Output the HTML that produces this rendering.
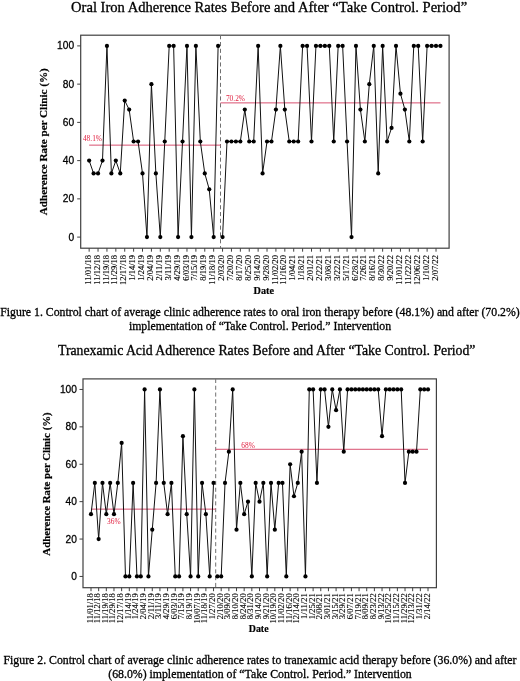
<!DOCTYPE html>
<html><head><meta charset="utf-8"><style>
html,body{margin:0;padding:0;background:#fff;}
body{width:520px;height:681px;overflow:hidden;position:relative;}
svg{position:absolute;left:0;top:0;will-change:transform;}
.t{font-family:"Liberation Serif",serif;fill:#000;stroke:#000;stroke-width:0.3px;}
.yt{font-family:"Liberation Sans",sans-serif;fill:#000;stroke:#000;stroke-width:0.3px;}
.xt{font-family:"Liberation Serif",serif;font-size:8.5px;fill:#000;stroke:#000;stroke-width:0.12px;}
.yl,.dl{font-family:"Liberation Serif",serif;font-weight:bold;fill:#000;stroke:#000;stroke-width:0.2px;}
.ml{font-family:"Liberation Serif",serif;font-size:7.4px;fill:#e02040;}
.cap{font-family:"Liberation Serif",serif;font-size:11.8px;fill:#000;stroke:#000;stroke-width:0.3px;}
</style></head><body>
<svg width="520" height="681" viewBox="0 0 520 681">
<text x="71.0" y="11.5" class="t" style="font-size:14.6px">Oral Iron Adherence Rates Before and After “Take Control. Period”</text>
<rect x="80.7" y="35.2" width="368.40" height="213.00" fill="none" stroke="#404040" stroke-width="1.2"/>
<line x1="77.20" y1="237.10" x2="80.7" y2="237.10" stroke="#404040" stroke-width="1"/>
<text transform="translate(74.10,240.60) scale(0.91,1)" text-anchor="end" class="yt" style="font-size:11.2px">0</text>
<line x1="77.20" y1="198.86" x2="80.7" y2="198.86" stroke="#404040" stroke-width="1"/>
<text transform="translate(74.10,202.36) scale(0.91,1)" text-anchor="end" class="yt" style="font-size:11.2px">20</text>
<line x1="77.20" y1="160.62" x2="80.7" y2="160.62" stroke="#404040" stroke-width="1"/>
<text transform="translate(74.10,164.12) scale(0.91,1)" text-anchor="end" class="yt" style="font-size:11.2px">40</text>
<line x1="77.20" y1="122.38" x2="80.7" y2="122.38" stroke="#404040" stroke-width="1"/>
<text transform="translate(74.10,125.88) scale(0.91,1)" text-anchor="end" class="yt" style="font-size:11.2px">60</text>
<line x1="77.20" y1="84.14" x2="80.7" y2="84.14" stroke="#404040" stroke-width="1"/>
<text transform="translate(74.10,87.64) scale(0.91,1)" text-anchor="end" class="yt" style="font-size:11.2px">80</text>
<line x1="77.20" y1="45.90" x2="80.7" y2="45.90" stroke="#404040" stroke-width="1"/>
<text transform="translate(74.10,49.40) scale(0.91,1)" text-anchor="end" class="yt" style="font-size:11.2px">100</text>
<line x1="89.15" y1="248.2" x2="89.15" y2="251.70" stroke="#404040" stroke-width="1"/>
<text transform="translate(90.75,254.90) rotate(-90) scale(1,0.94)" text-anchor="end" class="xt">11/01/18</text>
<line x1="98.04" y1="248.2" x2="98.04" y2="251.70" stroke="#404040" stroke-width="1"/>
<text transform="translate(99.64,254.90) rotate(-90) scale(1,0.94)" text-anchor="end" class="xt">11/12/18</text>
<line x1="106.94" y1="248.2" x2="106.94" y2="251.70" stroke="#404040" stroke-width="1"/>
<text transform="translate(108.54,254.90) rotate(-90) scale(1,0.94)" text-anchor="end" class="xt">11/19/18</text>
<line x1="115.83" y1="248.2" x2="115.83" y2="251.70" stroke="#404040" stroke-width="1"/>
<text transform="translate(117.43,254.90) rotate(-90) scale(1,0.94)" text-anchor="end" class="xt">11/29/18</text>
<line x1="124.73" y1="248.2" x2="124.73" y2="251.70" stroke="#404040" stroke-width="1"/>
<text transform="translate(126.33,254.90) rotate(-90) scale(1,0.94)" text-anchor="end" class="xt">12/17/18</text>
<line x1="133.62" y1="248.2" x2="133.62" y2="251.70" stroke="#404040" stroke-width="1"/>
<text transform="translate(135.22,254.90) rotate(-90) scale(1,0.94)" text-anchor="end" class="xt">1/14/19</text>
<line x1="142.51" y1="248.2" x2="142.51" y2="251.70" stroke="#404040" stroke-width="1"/>
<text transform="translate(144.11,254.90) rotate(-90) scale(1,0.94)" text-anchor="end" class="xt">1/24/19</text>
<line x1="151.41" y1="248.2" x2="151.41" y2="251.70" stroke="#404040" stroke-width="1"/>
<text transform="translate(153.01,254.90) rotate(-90) scale(1,0.94)" text-anchor="end" class="xt">2/04/19</text>
<line x1="160.30" y1="248.2" x2="160.30" y2="251.70" stroke="#404040" stroke-width="1"/>
<text transform="translate(161.90,254.90) rotate(-90) scale(1,0.94)" text-anchor="end" class="xt">2/11/19</text>
<line x1="169.20" y1="248.2" x2="169.20" y2="251.70" stroke="#404040" stroke-width="1"/>
<text transform="translate(170.80,254.90) rotate(-90) scale(1,0.94)" text-anchor="end" class="xt">3/11/19</text>
<line x1="178.09" y1="248.2" x2="178.09" y2="251.70" stroke="#404040" stroke-width="1"/>
<text transform="translate(179.69,254.90) rotate(-90) scale(1,0.94)" text-anchor="end" class="xt">4/29/19</text>
<line x1="186.98" y1="248.2" x2="186.98" y2="251.70" stroke="#404040" stroke-width="1"/>
<text transform="translate(188.58,254.90) rotate(-90) scale(1,0.94)" text-anchor="end" class="xt">6/03/19</text>
<line x1="195.88" y1="248.2" x2="195.88" y2="251.70" stroke="#404040" stroke-width="1"/>
<text transform="translate(197.48,254.90) rotate(-90) scale(1,0.94)" text-anchor="end" class="xt">7/15/19</text>
<line x1="204.77" y1="248.2" x2="204.77" y2="251.70" stroke="#404040" stroke-width="1"/>
<text transform="translate(206.37,254.90) rotate(-90) scale(1,0.94)" text-anchor="end" class="xt">8/19/19</text>
<line x1="213.67" y1="248.2" x2="213.67" y2="251.70" stroke="#404040" stroke-width="1"/>
<text transform="translate(215.27,254.90) rotate(-90) scale(1,0.94)" text-anchor="end" class="xt">11/18/19</text>
<line x1="222.56" y1="248.2" x2="222.56" y2="251.70" stroke="#404040" stroke-width="1"/>
<text transform="translate(224.16,254.90) rotate(-90) scale(1,0.94)" text-anchor="end" class="xt">2/03/20</text>
<line x1="231.45" y1="248.2" x2="231.45" y2="251.70" stroke="#404040" stroke-width="1"/>
<text transform="translate(233.05,254.90) rotate(-90) scale(1,0.94)" text-anchor="end" class="xt">7/20/20</text>
<line x1="240.35" y1="248.2" x2="240.35" y2="251.70" stroke="#404040" stroke-width="1"/>
<text transform="translate(241.95,254.90) rotate(-90) scale(1,0.94)" text-anchor="end" class="xt">8/17/20</text>
<line x1="249.24" y1="248.2" x2="249.24" y2="251.70" stroke="#404040" stroke-width="1"/>
<text transform="translate(250.84,254.90) rotate(-90) scale(1,0.94)" text-anchor="end" class="xt">8/25/20</text>
<line x1="258.14" y1="248.2" x2="258.14" y2="251.70" stroke="#404040" stroke-width="1"/>
<text transform="translate(259.74,254.90) rotate(-90) scale(1,0.94)" text-anchor="end" class="xt">9/14/20</text>
<line x1="267.03" y1="248.2" x2="267.03" y2="251.70" stroke="#404040" stroke-width="1"/>
<text transform="translate(268.63,254.90) rotate(-90) scale(1,0.94)" text-anchor="end" class="xt">9/28/20</text>
<line x1="275.92" y1="248.2" x2="275.92" y2="251.70" stroke="#404040" stroke-width="1"/>
<text transform="translate(277.52,254.90) rotate(-90) scale(1,0.94)" text-anchor="end" class="xt">11/02/20</text>
<line x1="284.82" y1="248.2" x2="284.82" y2="251.70" stroke="#404040" stroke-width="1"/>
<text transform="translate(286.42,254.90) rotate(-90) scale(1,0.94)" text-anchor="end" class="xt">11/16/20</text>
<line x1="293.71" y1="248.2" x2="293.71" y2="251.70" stroke="#404040" stroke-width="1"/>
<text transform="translate(295.31,254.90) rotate(-90) scale(1,0.94)" text-anchor="end" class="xt">1/04/21</text>
<line x1="302.61" y1="248.2" x2="302.61" y2="251.70" stroke="#404040" stroke-width="1"/>
<text transform="translate(304.21,254.90) rotate(-90) scale(1,0.94)" text-anchor="end" class="xt">1/18/21</text>
<line x1="311.50" y1="248.2" x2="311.50" y2="251.70" stroke="#404040" stroke-width="1"/>
<text transform="translate(313.10,254.90) rotate(-90) scale(1,0.94)" text-anchor="end" class="xt">2/01/21</text>
<line x1="320.39" y1="248.2" x2="320.39" y2="251.70" stroke="#404040" stroke-width="1"/>
<text transform="translate(321.99,254.90) rotate(-90) scale(1,0.94)" text-anchor="end" class="xt">2/22/21</text>
<line x1="329.29" y1="248.2" x2="329.29" y2="251.70" stroke="#404040" stroke-width="1"/>
<text transform="translate(330.89,254.90) rotate(-90) scale(1,0.94)" text-anchor="end" class="xt">3/08/21</text>
<line x1="338.18" y1="248.2" x2="338.18" y2="251.70" stroke="#404040" stroke-width="1"/>
<text transform="translate(339.78,254.90) rotate(-90) scale(1,0.94)" text-anchor="end" class="xt">3/22/21</text>
<line x1="347.08" y1="248.2" x2="347.08" y2="251.70" stroke="#404040" stroke-width="1"/>
<text transform="translate(348.68,254.90) rotate(-90) scale(1,0.94)" text-anchor="end" class="xt">5/17/21</text>
<line x1="355.97" y1="248.2" x2="355.97" y2="251.70" stroke="#404040" stroke-width="1"/>
<text transform="translate(357.57,254.90) rotate(-90) scale(1,0.94)" text-anchor="end" class="xt">6/28/21</text>
<line x1="364.86" y1="248.2" x2="364.86" y2="251.70" stroke="#404040" stroke-width="1"/>
<text transform="translate(366.46,254.90) rotate(-90) scale(1,0.94)" text-anchor="end" class="xt">7/26/21</text>
<line x1="373.76" y1="248.2" x2="373.76" y2="251.70" stroke="#404040" stroke-width="1"/>
<text transform="translate(375.36,254.90) rotate(-90) scale(1,0.94)" text-anchor="end" class="xt">8/16/21</text>
<line x1="382.65" y1="248.2" x2="382.65" y2="251.70" stroke="#404040" stroke-width="1"/>
<text transform="translate(384.25,254.90) rotate(-90) scale(1,0.94)" text-anchor="end" class="xt">8/30/22</text>
<line x1="391.55" y1="248.2" x2="391.55" y2="251.70" stroke="#404040" stroke-width="1"/>
<text transform="translate(393.15,254.90) rotate(-90) scale(1,0.94)" text-anchor="end" class="xt">9/20/22</text>
<line x1="400.44" y1="248.2" x2="400.44" y2="251.70" stroke="#404040" stroke-width="1"/>
<text transform="translate(402.04,254.90) rotate(-90) scale(1,0.94)" text-anchor="end" class="xt">11/01/22</text>
<line x1="409.33" y1="248.2" x2="409.33" y2="251.70" stroke="#404040" stroke-width="1"/>
<text transform="translate(410.93,254.90) rotate(-90) scale(1,0.94)" text-anchor="end" class="xt">11/22/22</text>
<line x1="418.23" y1="248.2" x2="418.23" y2="251.70" stroke="#404040" stroke-width="1"/>
<text transform="translate(419.83,254.90) rotate(-90) scale(1,0.94)" text-anchor="end" class="xt">12/06/22</text>
<line x1="427.12" y1="248.2" x2="427.12" y2="251.70" stroke="#404040" stroke-width="1"/>
<text transform="translate(428.72,254.90) rotate(-90) scale(1,0.94)" text-anchor="end" class="xt">1/10/22</text>
<line x1="436.02" y1="248.2" x2="436.02" y2="251.70" stroke="#404040" stroke-width="1"/>
<text transform="translate(437.62,254.90) rotate(-90) scale(1,0.94)" text-anchor="end" class="xt">2/07/22</text>
<line x1="220.5" y1="35.2" x2="220.5" y2="248.2" stroke="#707070" stroke-width="1" stroke-dasharray="4.1,2.7"/>
<line x1="89.15" y1="145.13" x2="220.5" y2="145.13" stroke="#d85070" stroke-width="1"/>
<line x1="220.5" y1="102.88" x2="440.46" y2="102.88" stroke="#d85070" stroke-width="1"/>
<text x="82.9" y="140.6" class="ml">48.1%</text>
<text x="225.9" y="100.6" class="ml">70.2%</text>
<polyline points="89.15,160.62 93.60,173.43 98.04,173.43 102.49,160.62 106.94,45.90 111.39,173.43 115.83,160.62 120.28,173.43 124.73,100.58 129.17,109.57 133.62,141.50 138.07,141.50 142.51,173.43 146.96,237.10 151.41,84.14 155.86,173.43 160.30,237.10 164.75,141.50 169.20,45.90 173.64,45.90 178.09,237.10 182.54,141.50 186.98,45.90 191.43,237.10 195.88,45.90 200.32,141.50 204.77,173.43 209.22,189.30 213.67,237.10 218.11,45.90" fill="none" stroke="#111" stroke-width="1" stroke-linejoin="miter"/>
<polyline points="222.56,237.10 227.01,141.50 231.45,141.50 235.90,141.50 240.35,141.50 244.80,109.57 249.24,141.50 253.69,141.50 258.14,45.90 262.58,173.43 267.03,141.50 271.48,141.50 275.92,109.57 280.37,45.90 284.82,109.57 289.26,141.50 293.71,141.50 298.16,141.50 302.61,45.90 307.05,45.90 311.50,141.50 315.95,45.90 320.39,45.90 324.84,45.90 329.29,45.90 333.74,141.50 338.18,45.90 342.63,45.90 347.08,141.50 351.52,237.10 355.97,45.90 360.42,109.57 364.86,141.50 369.31,84.14 373.76,45.90 378.21,173.43 382.65,45.90 387.10,141.50 391.55,127.92 395.99,45.90 400.44,93.70 404.89,109.57 409.33,141.50 413.78,45.90 418.23,45.90 422.67,141.50 427.12,45.90 431.57,45.90 436.02,45.90 440.46,45.90" fill="none" stroke="#111" stroke-width="1" stroke-linejoin="miter"/>
<circle cx="89.15" cy="160.62" r="2.1" fill="#000"/>
<circle cx="93.60" cy="173.43" r="2.1" fill="#000"/>
<circle cx="98.04" cy="173.43" r="2.1" fill="#000"/>
<circle cx="102.49" cy="160.62" r="2.1" fill="#000"/>
<circle cx="106.94" cy="45.90" r="2.1" fill="#000"/>
<circle cx="111.39" cy="173.43" r="2.1" fill="#000"/>
<circle cx="115.83" cy="160.62" r="2.1" fill="#000"/>
<circle cx="120.28" cy="173.43" r="2.1" fill="#000"/>
<circle cx="124.73" cy="100.58" r="2.1" fill="#000"/>
<circle cx="129.17" cy="109.57" r="2.1" fill="#000"/>
<circle cx="133.62" cy="141.50" r="2.1" fill="#000"/>
<circle cx="138.07" cy="141.50" r="2.1" fill="#000"/>
<circle cx="142.51" cy="173.43" r="2.1" fill="#000"/>
<circle cx="146.96" cy="237.10" r="2.1" fill="#000"/>
<circle cx="151.41" cy="84.14" r="2.1" fill="#000"/>
<circle cx="155.86" cy="173.43" r="2.1" fill="#000"/>
<circle cx="160.30" cy="237.10" r="2.1" fill="#000"/>
<circle cx="164.75" cy="141.50" r="2.1" fill="#000"/>
<circle cx="169.20" cy="45.90" r="2.1" fill="#000"/>
<circle cx="173.64" cy="45.90" r="2.1" fill="#000"/>
<circle cx="178.09" cy="237.10" r="2.1" fill="#000"/>
<circle cx="182.54" cy="141.50" r="2.1" fill="#000"/>
<circle cx="186.98" cy="45.90" r="2.1" fill="#000"/>
<circle cx="191.43" cy="237.10" r="2.1" fill="#000"/>
<circle cx="195.88" cy="45.90" r="2.1" fill="#000"/>
<circle cx="200.32" cy="141.50" r="2.1" fill="#000"/>
<circle cx="204.77" cy="173.43" r="2.1" fill="#000"/>
<circle cx="209.22" cy="189.30" r="2.1" fill="#000"/>
<circle cx="213.67" cy="237.10" r="2.1" fill="#000"/>
<circle cx="218.11" cy="45.90" r="2.1" fill="#000"/>
<circle cx="222.56" cy="237.10" r="2.1" fill="#000"/>
<circle cx="227.01" cy="141.50" r="2.1" fill="#000"/>
<circle cx="231.45" cy="141.50" r="2.1" fill="#000"/>
<circle cx="235.90" cy="141.50" r="2.1" fill="#000"/>
<circle cx="240.35" cy="141.50" r="2.1" fill="#000"/>
<circle cx="244.80" cy="109.57" r="2.1" fill="#000"/>
<circle cx="249.24" cy="141.50" r="2.1" fill="#000"/>
<circle cx="253.69" cy="141.50" r="2.1" fill="#000"/>
<circle cx="258.14" cy="45.90" r="2.1" fill="#000"/>
<circle cx="262.58" cy="173.43" r="2.1" fill="#000"/>
<circle cx="267.03" cy="141.50" r="2.1" fill="#000"/>
<circle cx="271.48" cy="141.50" r="2.1" fill="#000"/>
<circle cx="275.92" cy="109.57" r="2.1" fill="#000"/>
<circle cx="280.37" cy="45.90" r="2.1" fill="#000"/>
<circle cx="284.82" cy="109.57" r="2.1" fill="#000"/>
<circle cx="289.26" cy="141.50" r="2.1" fill="#000"/>
<circle cx="293.71" cy="141.50" r="2.1" fill="#000"/>
<circle cx="298.16" cy="141.50" r="2.1" fill="#000"/>
<circle cx="302.61" cy="45.90" r="2.1" fill="#000"/>
<circle cx="307.05" cy="45.90" r="2.1" fill="#000"/>
<circle cx="311.50" cy="141.50" r="2.1" fill="#000"/>
<circle cx="315.95" cy="45.90" r="2.1" fill="#000"/>
<circle cx="320.39" cy="45.90" r="2.1" fill="#000"/>
<circle cx="324.84" cy="45.90" r="2.1" fill="#000"/>
<circle cx="329.29" cy="45.90" r="2.1" fill="#000"/>
<circle cx="333.74" cy="141.50" r="2.1" fill="#000"/>
<circle cx="338.18" cy="45.90" r="2.1" fill="#000"/>
<circle cx="342.63" cy="45.90" r="2.1" fill="#000"/>
<circle cx="347.08" cy="141.50" r="2.1" fill="#000"/>
<circle cx="351.52" cy="237.10" r="2.1" fill="#000"/>
<circle cx="355.97" cy="45.90" r="2.1" fill="#000"/>
<circle cx="360.42" cy="109.57" r="2.1" fill="#000"/>
<circle cx="364.86" cy="141.50" r="2.1" fill="#000"/>
<circle cx="369.31" cy="84.14" r="2.1" fill="#000"/>
<circle cx="373.76" cy="45.90" r="2.1" fill="#000"/>
<circle cx="378.21" cy="173.43" r="2.1" fill="#000"/>
<circle cx="382.65" cy="45.90" r="2.1" fill="#000"/>
<circle cx="387.10" cy="141.50" r="2.1" fill="#000"/>
<circle cx="391.55" cy="127.92" r="2.1" fill="#000"/>
<circle cx="395.99" cy="45.90" r="2.1" fill="#000"/>
<circle cx="400.44" cy="93.70" r="2.1" fill="#000"/>
<circle cx="404.89" cy="109.57" r="2.1" fill="#000"/>
<circle cx="409.33" cy="141.50" r="2.1" fill="#000"/>
<circle cx="413.78" cy="45.90" r="2.1" fill="#000"/>
<circle cx="418.23" cy="45.90" r="2.1" fill="#000"/>
<circle cx="422.67" cy="141.50" r="2.1" fill="#000"/>
<circle cx="427.12" cy="45.90" r="2.1" fill="#000"/>
<circle cx="431.57" cy="45.90" r="2.1" fill="#000"/>
<circle cx="436.02" cy="45.90" r="2.1" fill="#000"/>
<circle cx="440.46" cy="45.90" r="2.1" fill="#000"/>
<text transform="translate(47.3,141.75) rotate(-90)" text-anchor="middle" class="yl" style="font-size:11.1px">Adherence Rate per Clinic (%)</text>
<text x="253.6" y="293.8" class="dl" style="font-size:10.2px">Date</text>
<text x="260" y="315.6" text-anchor="middle" class="cap">Figure 1. Control chart of average clinic adherence rates to oral iron therapy before (48.1%) and after (70.2%)</text>
<text x="260" y="330.2" text-anchor="middle" class="cap">implementation of “Take Control. Period.” Intervention</text>
<text x="58.0" y="354.6" class="t" style="font-size:13.77px">Tranexamic Acid Adherence Rates Before and After “Take Control. Period”</text>
<rect x="83.0" y="378.9" width="353.40" height="208.80" fill="none" stroke="#404040" stroke-width="1.2"/>
<line x1="79.50" y1="576.45" x2="83.0" y2="576.45" stroke="#404040" stroke-width="1"/>
<text transform="translate(76.90,579.95) scale(0.91,1)" text-anchor="end" class="yt" style="font-size:11.2px">0</text>
<line x1="79.50" y1="539.05" x2="83.0" y2="539.05" stroke="#404040" stroke-width="1"/>
<text transform="translate(76.90,542.55) scale(0.91,1)" text-anchor="end" class="yt" style="font-size:11.2px">20</text>
<line x1="79.50" y1="501.65" x2="83.0" y2="501.65" stroke="#404040" stroke-width="1"/>
<text transform="translate(76.90,505.15) scale(0.91,1)" text-anchor="end" class="yt" style="font-size:11.2px">40</text>
<line x1="79.50" y1="464.25" x2="83.0" y2="464.25" stroke="#404040" stroke-width="1"/>
<text transform="translate(76.90,467.75) scale(0.91,1)" text-anchor="end" class="yt" style="font-size:11.2px">60</text>
<line x1="79.50" y1="426.85" x2="83.0" y2="426.85" stroke="#404040" stroke-width="1"/>
<text transform="translate(76.90,430.35) scale(0.91,1)" text-anchor="end" class="yt" style="font-size:11.2px">80</text>
<line x1="79.50" y1="389.45" x2="83.0" y2="389.45" stroke="#404040" stroke-width="1"/>
<text transform="translate(76.90,392.95) scale(0.91,1)" text-anchor="end" class="yt" style="font-size:11.2px">100</text>
<line x1="91.00" y1="587.7" x2="91.00" y2="591.20" stroke="#404040" stroke-width="1"/>
<text transform="translate(92.50,593.30) rotate(-90) scale(1,0.88)" text-anchor="end" class="xt">11/01/18</text>
<line x1="98.66" y1="587.7" x2="98.66" y2="591.20" stroke="#404040" stroke-width="1"/>
<text transform="translate(100.16,593.30) rotate(-90) scale(1,0.88)" text-anchor="end" class="xt">11/12/18</text>
<line x1="106.32" y1="587.7" x2="106.32" y2="591.20" stroke="#404040" stroke-width="1"/>
<text transform="translate(107.82,593.30) rotate(-90) scale(1,0.88)" text-anchor="end" class="xt">11/19/18</text>
<line x1="113.98" y1="587.7" x2="113.98" y2="591.20" stroke="#404040" stroke-width="1"/>
<text transform="translate(115.48,593.30) rotate(-90) scale(1,0.88)" text-anchor="end" class="xt">11/29/18</text>
<line x1="121.64" y1="587.7" x2="121.64" y2="591.20" stroke="#404040" stroke-width="1"/>
<text transform="translate(123.14,593.30) rotate(-90) scale(1,0.88)" text-anchor="end" class="xt">12/17/18</text>
<line x1="129.30" y1="587.7" x2="129.30" y2="591.20" stroke="#404040" stroke-width="1"/>
<text transform="translate(130.80,593.30) rotate(-90) scale(1,0.88)" text-anchor="end" class="xt">1/14/19</text>
<line x1="136.95" y1="587.7" x2="136.95" y2="591.20" stroke="#404040" stroke-width="1"/>
<text transform="translate(138.45,593.30) rotate(-90) scale(1,0.88)" text-anchor="end" class="xt">1/24/19</text>
<line x1="144.61" y1="587.7" x2="144.61" y2="591.20" stroke="#404040" stroke-width="1"/>
<text transform="translate(146.11,593.30) rotate(-90) scale(1,0.88)" text-anchor="end" class="xt">2/04/19</text>
<line x1="152.27" y1="587.7" x2="152.27" y2="591.20" stroke="#404040" stroke-width="1"/>
<text transform="translate(153.77,593.30) rotate(-90) scale(1,0.88)" text-anchor="end" class="xt">2/11/19</text>
<line x1="159.93" y1="587.7" x2="159.93" y2="591.20" stroke="#404040" stroke-width="1"/>
<text transform="translate(161.43,593.30) rotate(-90) scale(1,0.88)" text-anchor="end" class="xt">3/11/19</text>
<line x1="167.59" y1="587.7" x2="167.59" y2="591.20" stroke="#404040" stroke-width="1"/>
<text transform="translate(169.09,593.30) rotate(-90) scale(1,0.88)" text-anchor="end" class="xt">4/29/19</text>
<line x1="175.25" y1="587.7" x2="175.25" y2="591.20" stroke="#404040" stroke-width="1"/>
<text transform="translate(176.75,593.30) rotate(-90) scale(1,0.88)" text-anchor="end" class="xt">6/03/19</text>
<line x1="182.91" y1="587.7" x2="182.91" y2="591.20" stroke="#404040" stroke-width="1"/>
<text transform="translate(184.41,593.30) rotate(-90) scale(1,0.88)" text-anchor="end" class="xt">7/15/19</text>
<line x1="190.57" y1="587.7" x2="190.57" y2="591.20" stroke="#404040" stroke-width="1"/>
<text transform="translate(192.07,593.30) rotate(-90) scale(1,0.88)" text-anchor="end" class="xt">8/19/19</text>
<line x1="198.23" y1="587.7" x2="198.23" y2="591.20" stroke="#404040" stroke-width="1"/>
<text transform="translate(199.73,593.30) rotate(-90) scale(1,0.88)" text-anchor="end" class="xt">10/07/19</text>
<line x1="205.88" y1="587.7" x2="205.88" y2="591.20" stroke="#404040" stroke-width="1"/>
<text transform="translate(207.38,593.30) rotate(-90) scale(1,0.88)" text-anchor="end" class="xt">11/18/19</text>
<line x1="213.54" y1="587.7" x2="213.54" y2="591.20" stroke="#404040" stroke-width="1"/>
<text transform="translate(215.04,593.30) rotate(-90) scale(1,0.88)" text-anchor="end" class="xt">1/27/20</text>
<line x1="221.20" y1="587.7" x2="221.20" y2="591.20" stroke="#404040" stroke-width="1"/>
<text transform="translate(222.70,593.30) rotate(-90) scale(1,0.88)" text-anchor="end" class="xt">2/10/20</text>
<line x1="228.86" y1="587.7" x2="228.86" y2="591.20" stroke="#404040" stroke-width="1"/>
<text transform="translate(230.36,593.30) rotate(-90) scale(1,0.88)" text-anchor="end" class="xt">3/09/20</text>
<line x1="236.52" y1="587.7" x2="236.52" y2="591.20" stroke="#404040" stroke-width="1"/>
<text transform="translate(238.02,593.30) rotate(-90) scale(1,0.88)" text-anchor="end" class="xt">8/10/20</text>
<line x1="244.18" y1="587.7" x2="244.18" y2="591.20" stroke="#404040" stroke-width="1"/>
<text transform="translate(245.68,593.30) rotate(-90) scale(1,0.88)" text-anchor="end" class="xt">8/24/20</text>
<line x1="251.84" y1="587.7" x2="251.84" y2="591.20" stroke="#404040" stroke-width="1"/>
<text transform="translate(253.34,593.30) rotate(-90) scale(1,0.88)" text-anchor="end" class="xt">8/31/20</text>
<line x1="259.50" y1="587.7" x2="259.50" y2="591.20" stroke="#404040" stroke-width="1"/>
<text transform="translate(261.00,593.30) rotate(-90) scale(1,0.88)" text-anchor="end" class="xt">9/14/20</text>
<line x1="267.16" y1="587.7" x2="267.16" y2="591.20" stroke="#404040" stroke-width="1"/>
<text transform="translate(268.66,593.30) rotate(-90) scale(1,0.88)" text-anchor="end" class="xt">9/21/20</text>
<line x1="274.82" y1="587.7" x2="274.82" y2="591.20" stroke="#404040" stroke-width="1"/>
<text transform="translate(276.32,593.30) rotate(-90) scale(1,0.88)" text-anchor="end" class="xt">10/19/20</text>
<line x1="282.48" y1="587.7" x2="282.48" y2="591.20" stroke="#404040" stroke-width="1"/>
<text transform="translate(283.98,593.30) rotate(-90) scale(1,0.88)" text-anchor="end" class="xt">11/02/20</text>
<line x1="290.13" y1="587.7" x2="290.13" y2="591.20" stroke="#404040" stroke-width="1"/>
<text transform="translate(291.63,593.30) rotate(-90) scale(1,0.88)" text-anchor="end" class="xt">11/16/20</text>
<line x1="297.79" y1="587.7" x2="297.79" y2="591.20" stroke="#404040" stroke-width="1"/>
<text transform="translate(299.29,593.30) rotate(-90) scale(1,0.88)" text-anchor="end" class="xt">12/14/20</text>
<line x1="305.45" y1="587.7" x2="305.45" y2="591.20" stroke="#404040" stroke-width="1"/>
<text transform="translate(306.95,593.30) rotate(-90) scale(1,0.88)" text-anchor="end" class="xt">1/11/21</text>
<line x1="313.11" y1="587.7" x2="313.11" y2="591.20" stroke="#404040" stroke-width="1"/>
<text transform="translate(314.61,593.30) rotate(-90) scale(1,0.88)" text-anchor="end" class="xt">1/25/21</text>
<line x1="320.77" y1="587.7" x2="320.77" y2="591.20" stroke="#404040" stroke-width="1"/>
<text transform="translate(322.27,593.30) rotate(-90) scale(1,0.88)" text-anchor="end" class="xt">2/08/21</text>
<line x1="328.43" y1="587.7" x2="328.43" y2="591.20" stroke="#404040" stroke-width="1"/>
<text transform="translate(329.93,593.30) rotate(-90) scale(1,0.88)" text-anchor="end" class="xt">3/01/21</text>
<line x1="336.09" y1="587.7" x2="336.09" y2="591.20" stroke="#404040" stroke-width="1"/>
<text transform="translate(337.59,593.30) rotate(-90) scale(1,0.88)" text-anchor="end" class="xt">3/15/21</text>
<line x1="343.75" y1="587.7" x2="343.75" y2="591.20" stroke="#404040" stroke-width="1"/>
<text transform="translate(345.25,593.30) rotate(-90) scale(1,0.88)" text-anchor="end" class="xt">3/29/21</text>
<line x1="351.41" y1="587.7" x2="351.41" y2="591.20" stroke="#404040" stroke-width="1"/>
<text transform="translate(352.91,593.30) rotate(-90) scale(1,0.88)" text-anchor="end" class="xt">6/07/21</text>
<line x1="359.06" y1="587.7" x2="359.06" y2="591.20" stroke="#404040" stroke-width="1"/>
<text transform="translate(360.56,593.30) rotate(-90) scale(1,0.88)" text-anchor="end" class="xt">7/19/21</text>
<line x1="366.72" y1="587.7" x2="366.72" y2="591.20" stroke="#404040" stroke-width="1"/>
<text transform="translate(368.22,593.30) rotate(-90) scale(1,0.88)" text-anchor="end" class="xt">8/09/21</text>
<line x1="374.38" y1="587.7" x2="374.38" y2="591.20" stroke="#404040" stroke-width="1"/>
<text transform="translate(375.88,593.30) rotate(-90) scale(1,0.88)" text-anchor="end" class="xt">8/23/22</text>
<line x1="382.04" y1="587.7" x2="382.04" y2="591.20" stroke="#404040" stroke-width="1"/>
<text transform="translate(383.54,593.30) rotate(-90) scale(1,0.88)" text-anchor="end" class="xt">9/13/22</text>
<line x1="389.70" y1="587.7" x2="389.70" y2="591.20" stroke="#404040" stroke-width="1"/>
<text transform="translate(391.20,593.30) rotate(-90) scale(1,0.88)" text-anchor="end" class="xt">10/25/22</text>
<line x1="397.36" y1="587.7" x2="397.36" y2="591.20" stroke="#404040" stroke-width="1"/>
<text transform="translate(398.86,593.30) rotate(-90) scale(1,0.88)" text-anchor="end" class="xt">11/15/22</text>
<line x1="405.02" y1="587.7" x2="405.02" y2="591.20" stroke="#404040" stroke-width="1"/>
<text transform="translate(406.52,593.30) rotate(-90) scale(1,0.88)" text-anchor="end" class="xt">11/29/22</text>
<line x1="412.68" y1="587.7" x2="412.68" y2="591.20" stroke="#404040" stroke-width="1"/>
<text transform="translate(414.18,593.30) rotate(-90) scale(1,0.88)" text-anchor="end" class="xt">12/13/22</text>
<line x1="420.34" y1="587.7" x2="420.34" y2="591.20" stroke="#404040" stroke-width="1"/>
<text transform="translate(421.84,593.30) rotate(-90) scale(1,0.88)" text-anchor="end" class="xt">1/31/22</text>
<line x1="428.00" y1="587.7" x2="428.00" y2="591.20" stroke="#404040" stroke-width="1"/>
<text transform="translate(429.50,593.30) rotate(-90) scale(1,0.88)" text-anchor="end" class="xt">2/14/22</text>
<line x1="215.7" y1="378.9" x2="215.7" y2="587.7" stroke="#707070" stroke-width="1" stroke-dasharray="4.1,2.7"/>
<line x1="91.00" y1="509.13" x2="215.7" y2="509.13" stroke="#d85070" stroke-width="1"/>
<line x1="215.7" y1="449.29" x2="428.00" y2="449.29" stroke="#d85070" stroke-width="1"/>
<text x="107.1" y="523.9" class="ml">36%</text>
<text x="241.3" y="447.8" class="ml">68%</text>
<polyline points="91.00,514.18 94.83,482.95 98.66,539.05 102.49,482.95 106.32,514.18 110.15,482.95 113.98,514.18 117.81,482.95 121.64,442.93 125.47,576.45 129.30,576.45 133.12,482.95 136.95,576.45 140.78,576.45 144.61,389.45 148.44,576.45 152.27,529.70 156.10,482.95 159.93,389.45 163.76,482.95 167.59,514.18 171.42,482.95 175.25,576.45 179.08,576.45 182.91,436.20 186.74,514.18 190.57,576.45 194.40,389.45 198.23,576.45 202.06,482.95 205.88,514.18 209.71,576.45 213.54,482.95" fill="none" stroke="#111" stroke-width="1" stroke-linejoin="miter"/>
<polyline points="217.37,576.45 221.20,576.45 225.03,482.95 228.86,451.72 232.69,389.45 236.52,529.70 240.35,482.95 244.18,514.18 248.01,501.65 251.84,576.45 255.67,482.95 259.50,501.65 263.33,482.95 267.16,576.45 270.99,482.95 274.82,529.70 278.65,482.95 282.48,482.95 286.30,576.45 290.13,464.25 293.96,496.23 297.79,482.95 301.62,451.72 305.45,576.45 309.28,389.45 313.11,389.45 316.94,482.95 320.77,389.45 324.60,389.45 328.43,426.85 332.26,389.45 336.09,410.21 339.92,389.45 343.75,451.72 347.58,389.45 351.41,389.45 355.24,389.45 359.06,389.45 362.89,389.45 366.72,389.45 370.55,389.45 374.38,389.45 378.21,389.45 382.04,436.20 385.87,389.45 389.70,389.45 393.53,389.45 397.36,389.45 401.19,389.45 405.02,482.95 408.85,451.72 412.68,451.72 416.51,451.72 420.34,389.45 424.17,389.45 428.00,389.45" fill="none" stroke="#111" stroke-width="1" stroke-linejoin="miter"/>
<circle cx="91.00" cy="514.18" r="2.1" fill="#000"/>
<circle cx="94.83" cy="482.95" r="2.1" fill="#000"/>
<circle cx="98.66" cy="539.05" r="2.1" fill="#000"/>
<circle cx="102.49" cy="482.95" r="2.1" fill="#000"/>
<circle cx="106.32" cy="514.18" r="2.1" fill="#000"/>
<circle cx="110.15" cy="482.95" r="2.1" fill="#000"/>
<circle cx="113.98" cy="514.18" r="2.1" fill="#000"/>
<circle cx="117.81" cy="482.95" r="2.1" fill="#000"/>
<circle cx="121.64" cy="442.93" r="2.1" fill="#000"/>
<circle cx="125.47" cy="576.45" r="2.1" fill="#000"/>
<circle cx="129.30" cy="576.45" r="2.1" fill="#000"/>
<circle cx="133.12" cy="482.95" r="2.1" fill="#000"/>
<circle cx="136.95" cy="576.45" r="2.1" fill="#000"/>
<circle cx="140.78" cy="576.45" r="2.1" fill="#000"/>
<circle cx="144.61" cy="389.45" r="2.1" fill="#000"/>
<circle cx="148.44" cy="576.45" r="2.1" fill="#000"/>
<circle cx="152.27" cy="529.70" r="2.1" fill="#000"/>
<circle cx="156.10" cy="482.95" r="2.1" fill="#000"/>
<circle cx="159.93" cy="389.45" r="2.1" fill="#000"/>
<circle cx="163.76" cy="482.95" r="2.1" fill="#000"/>
<circle cx="167.59" cy="514.18" r="2.1" fill="#000"/>
<circle cx="171.42" cy="482.95" r="2.1" fill="#000"/>
<circle cx="175.25" cy="576.45" r="2.1" fill="#000"/>
<circle cx="179.08" cy="576.45" r="2.1" fill="#000"/>
<circle cx="182.91" cy="436.20" r="2.1" fill="#000"/>
<circle cx="186.74" cy="514.18" r="2.1" fill="#000"/>
<circle cx="190.57" cy="576.45" r="2.1" fill="#000"/>
<circle cx="194.40" cy="389.45" r="2.1" fill="#000"/>
<circle cx="198.23" cy="576.45" r="2.1" fill="#000"/>
<circle cx="202.06" cy="482.95" r="2.1" fill="#000"/>
<circle cx="205.88" cy="514.18" r="2.1" fill="#000"/>
<circle cx="209.71" cy="576.45" r="2.1" fill="#000"/>
<circle cx="213.54" cy="482.95" r="2.1" fill="#000"/>
<circle cx="217.37" cy="576.45" r="2.1" fill="#000"/>
<circle cx="221.20" cy="576.45" r="2.1" fill="#000"/>
<circle cx="225.03" cy="482.95" r="2.1" fill="#000"/>
<circle cx="228.86" cy="451.72" r="2.1" fill="#000"/>
<circle cx="232.69" cy="389.45" r="2.1" fill="#000"/>
<circle cx="236.52" cy="529.70" r="2.1" fill="#000"/>
<circle cx="240.35" cy="482.95" r="2.1" fill="#000"/>
<circle cx="244.18" cy="514.18" r="2.1" fill="#000"/>
<circle cx="248.01" cy="501.65" r="2.1" fill="#000"/>
<circle cx="251.84" cy="576.45" r="2.1" fill="#000"/>
<circle cx="255.67" cy="482.95" r="2.1" fill="#000"/>
<circle cx="259.50" cy="501.65" r="2.1" fill="#000"/>
<circle cx="263.33" cy="482.95" r="2.1" fill="#000"/>
<circle cx="267.16" cy="576.45" r="2.1" fill="#000"/>
<circle cx="270.99" cy="482.95" r="2.1" fill="#000"/>
<circle cx="274.82" cy="529.70" r="2.1" fill="#000"/>
<circle cx="278.65" cy="482.95" r="2.1" fill="#000"/>
<circle cx="282.48" cy="482.95" r="2.1" fill="#000"/>
<circle cx="286.30" cy="576.45" r="2.1" fill="#000"/>
<circle cx="290.13" cy="464.25" r="2.1" fill="#000"/>
<circle cx="293.96" cy="496.23" r="2.1" fill="#000"/>
<circle cx="297.79" cy="482.95" r="2.1" fill="#000"/>
<circle cx="301.62" cy="451.72" r="2.1" fill="#000"/>
<circle cx="305.45" cy="576.45" r="2.1" fill="#000"/>
<circle cx="309.28" cy="389.45" r="2.1" fill="#000"/>
<circle cx="313.11" cy="389.45" r="2.1" fill="#000"/>
<circle cx="316.94" cy="482.95" r="2.1" fill="#000"/>
<circle cx="320.77" cy="389.45" r="2.1" fill="#000"/>
<circle cx="324.60" cy="389.45" r="2.1" fill="#000"/>
<circle cx="328.43" cy="426.85" r="2.1" fill="#000"/>
<circle cx="332.26" cy="389.45" r="2.1" fill="#000"/>
<circle cx="336.09" cy="410.21" r="2.1" fill="#000"/>
<circle cx="339.92" cy="389.45" r="2.1" fill="#000"/>
<circle cx="343.75" cy="451.72" r="2.1" fill="#000"/>
<circle cx="347.58" cy="389.45" r="2.1" fill="#000"/>
<circle cx="351.41" cy="389.45" r="2.1" fill="#000"/>
<circle cx="355.24" cy="389.45" r="2.1" fill="#000"/>
<circle cx="359.06" cy="389.45" r="2.1" fill="#000"/>
<circle cx="362.89" cy="389.45" r="2.1" fill="#000"/>
<circle cx="366.72" cy="389.45" r="2.1" fill="#000"/>
<circle cx="370.55" cy="389.45" r="2.1" fill="#000"/>
<circle cx="374.38" cy="389.45" r="2.1" fill="#000"/>
<circle cx="378.21" cy="389.45" r="2.1" fill="#000"/>
<circle cx="382.04" cy="436.20" r="2.1" fill="#000"/>
<circle cx="385.87" cy="389.45" r="2.1" fill="#000"/>
<circle cx="389.70" cy="389.45" r="2.1" fill="#000"/>
<circle cx="393.53" cy="389.45" r="2.1" fill="#000"/>
<circle cx="397.36" cy="389.45" r="2.1" fill="#000"/>
<circle cx="401.19" cy="389.45" r="2.1" fill="#000"/>
<circle cx="405.02" cy="482.95" r="2.1" fill="#000"/>
<circle cx="408.85" cy="451.72" r="2.1" fill="#000"/>
<circle cx="412.68" cy="451.72" r="2.1" fill="#000"/>
<circle cx="416.51" cy="451.72" r="2.1" fill="#000"/>
<circle cx="420.34" cy="389.45" r="2.1" fill="#000"/>
<circle cx="424.17" cy="389.45" r="2.1" fill="#000"/>
<circle cx="428.00" cy="389.45" r="2.1" fill="#000"/>
<text transform="translate(50.3,484.0) rotate(-90)" text-anchor="middle" class="yl" style="font-size:10.84px">Adherence Rate per Clinic (%)</text>
<text x="248.8" y="632.3" class="dl" style="font-size:9.9px">Date</text>
<text x="260" y="663.8" text-anchor="middle" class="cap">Figure 2. Control chart of average clinic adherence rates to tranexamic acid therapy before (36.0%) and after</text>
<text x="260" y="677.7" text-anchor="middle" class="cap">(68.0%) implementation of “Take Control. Period.” Intervention</text>
</svg>
</body></html>
